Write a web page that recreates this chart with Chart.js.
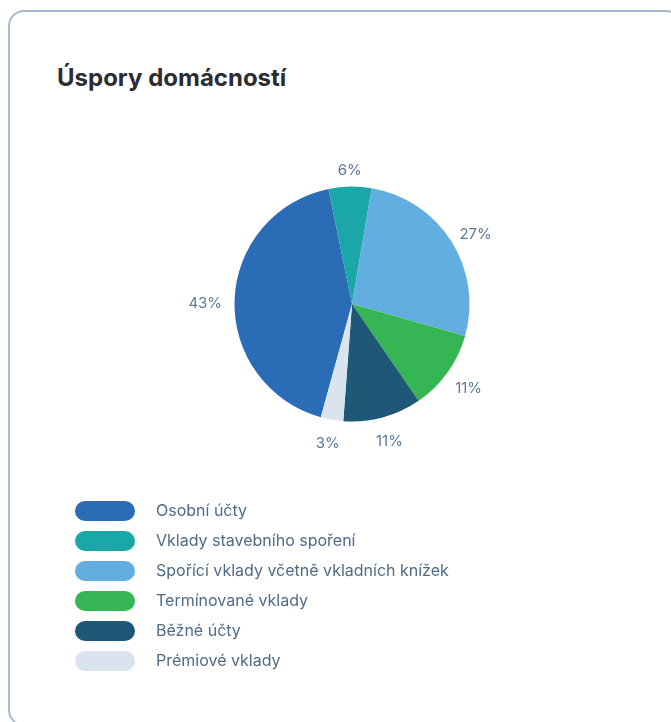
<!DOCTYPE html>
<html lang="cs">
<head>
<meta charset="utf-8">
<script src="https://cdn.jsdelivr.net/npm/chart.js@4.4.1/dist/chart.umd.min.js"></script>
<style>
    html, body { margin: 0; padding: 0; background: #fff; overflow: hidden; }
    body { width: 671px; height: 722px; position: relative; font-family: Inter, "Noto Sans", sans-serif; }
    .card {
        position: absolute; left: 8px; top: 10px; width: 674px; height: 716px;
        border: 2px solid #a5bacb; border-radius: 16px; box-sizing: border-box;
    }
    h1 {
        position: absolute; left: 57px; top: 63px; margin: 0;
        font-size: 24px; font-weight: 700; color: #2b2d33; letter-spacing: 0;
    }
    #chartBox { position: absolute; left: 152px; top: 104px; width: 400px; height: 400px; }
    #legend { position: absolute; left: 75px; top: 501px; margin: 0; padding: 0; list-style: none; }
    #legend li { height: 30px; display: flex; align-items: flex-start; }
    #legend .sw { width: 60px; height: 20px; border-radius: 10px; margin-right: 21px; }
    #legend .tx { font-size: 16px; color: #4f6b88; line-height: 20px; margin-top: -1px; }
</style>
</head>
<body>
<div class="card"></div>
<h1>Úspory domácností</h1>
<div id="chartBox"><canvas id="pieChart"></canvas></div>
<ul id="legend"></ul>

<script>
// data in percent
const labels = ["Osobní účty", "Vklady stavebního spoření", "Spořící vklady včetně vkladních knížek", "Termínované vklady", "Běžné účty", "Prémiové vklady"];
const values = [42.6, 5.9, 26.75, 11.05, 10.8, 3.1];
const colors = ["#2a6cb6", "#1ba7a7", "#63aee0", "#35b553", "#1f5877", "#d9e4ee"];

// draws the percentage outside each slice
const outsideLabels = {
    id: "outsideLabels",
    afterDatasetsDraw(chart) {
        const ctx = chart.ctx;
        const meta = chart.getDatasetMeta(0);
        ctx.save();
        ctx.font = "15px Inter, 'Noto Sans', sans-serif";
        ctx.fillStyle = "#5a7898";
        ctx.textAlign = "center";
        ctx.textBaseline = "middle";
        meta.data.forEach((arc, i) => {
            const a = (arc.startAngle + arc.endAngle) / 2;
            const txt = Math.round(values[i]) + "%";
            const halfW = ctx.measureText(txt).width / 2;
            const halfH = 8;
            const dx = Math.cos(a), dy = Math.sin(a);
            const r = arc.outerRadius + 12.5;
            const x = arc.x + dx * r + dx * halfW;
            const y = arc.y + dy * r + dy * halfH;
            ctx.fillText(txt, x, y + 4);
        });
        ctx.restore();
    }
};

new Chart(document.getElementById("pieChart").getContext("2d"), {
    type: "pie",
    data: {
        labels: labels,
        datasets: [{
            data: values,
            backgroundColor: colors,
            borderWidth: 0,
            hoverOffset: 0
        }]
    },
    options: {
        responsive: true,
        maintainAspectRatio: false,
        animation: false,
        rotation: 195.4,
        layout: { padding: 82.5 },
        plugins: {
            legend: { display: false },
            tooltip: { enabled: false }
        }
    },
    plugins: [outsideLabels]
});

// html legend with pill swatches
const legendEl = document.getElementById("legend");
labels.forEach((name, i) => {
    const li = document.createElement("li");
    li.innerHTML = `<span class="sw" style="background:${colors[i]}"></span><span class="tx">${name}</span>`;
    legendEl.appendChild(li);
});
</script>
</body>
</html>
